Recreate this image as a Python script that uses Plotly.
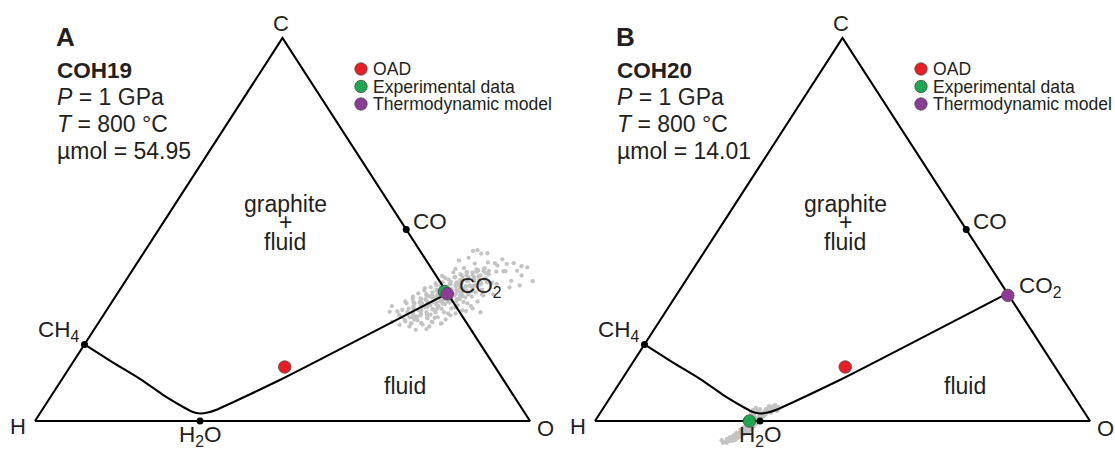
import plotly.graph_objects as go

# ---------------------------------------------------------------
# Compositions are mole fractions of C and O (H = 1 - C - O)
# ---------------------------------------------------------------
outline_C = [0.0, 0.0, 1.0, 0.0]          # H -> O -> C -> H
outline_O = [0.0, 1.0, 0.0, 0.0]

vertex_names = ["C", "H", "O"]
vertex_C = [1.0, 0.0, 0.0]
vertex_O = [0.0, 0.0, 1.0]

species_names = ["CH<sub>4</sub>", "H<sub>2</sub>O", "CO", "CO<sub>2</sub>"]
species_C = [0.2, 0.0, 0.5, 1 / 3]
species_O = [0.0, 1 / 3, 0.5, 2 / 3]

# graphite-saturated fluid boundary at 1 GPa / 800 °C (CH4 -> H2O max -> CO2)
sat_C = [0.200, 0.154, 0.110, 0.065, 0.034, 0.0235, 0.0196, 0.022, 0.030, 0.107, 1 / 3]
sat_O = [0.000, 0.079, 0.157, 0.230, 0.286, 0.307, 0.3235, 0.338, 0.353, 0.441, 2 / 3]

panel_letters = ["A", "B"]
sample_names = ["COH19", "COH20"]
pressure = ["1 GPa", "1 GPa"]
temperature = ["800 °C", "800 °C"]
umol = ["54.95", "14.01"]

oad_C = [0.141, 0.141]
oad_O = [0.434, 0.435]
exp_C = [0.338, 0.000]
exp_O = [0.658, 0.312]
model_C = [0.332, 0.328]
model_O = [0.667, 0.670]

# analytical spread of the OAD measurements (COH19)
spreadA_C = [0.281, 0.299, 0.280, 0.300, 0.279, 0.318, 0.298, 0.314, 0.291, 0.331,
             0.311, 0.304, 0.328, 0.293, 0.325, 0.306, 0.342, 0.319, 0.337, 0.309,
             0.354, 0.331, 0.321, 0.350, 0.313, 0.344, 0.332, 0.364, 0.327, 0.356,
             0.347, 0.376, 0.339, 0.368, 0.352, 0.377, 0.339, 0.367, 0.353, 0.389,
             0.366, 0.382, 0.357, 0.378, 0.396, 0.371, 0.391, 0.383, 0.272, 0.311,
             0.289, 0.308, 0.278, 0.308, 0.326, 0.293, 0.320, 0.312, 0.337, 0.312,
             0.339, 0.330, 0.357, 0.342, 0.332, 0.358, 0.332, 0.369, 0.354, 0.380,
             0.353, 0.374, 0.365, 0.390, 0.363, 0.397, 0.392, 0.285, 0.271, 0.271,
             0.264, 0.290, 0.255, 0.256, 0.325, 0.269, 0.347, 0.284, 0.359, 0.296,
             0.374, 0.311, 0.388, 0.325, 0.399, 0.342, 0.411, 0.361, 0.414, 0.390,
             0.412, 0.391, 0.277, 0.312, 0.259, 0.281, 0.379, 0.397, 0.330, 0.358,
             0.410,
             0.285, 0.251, 0.300, 0.240, 0.254, 0.276, 0.287, 0.419, 0.426, 0.444,
             0.437, 0.404, 0.366, 0.330, 0.300, 0.238, 0.259, 0.392,
             0.406, 0.391, 0.412, 0.380, 0.401, 0.365, 0.349, 0.354, 0.438, 0.446,
             0.422,
             0.307, 0.294, 0.281, 0.271,
             0.320, 0.307, 0.294, 0.284, 0.273,
             0.333, 0.320, 0.310, 0.299, 0.289, 0.279,
             0.341, 0.328, 0.318, 0.307, 0.297, 0.284,
             0.349, 0.336, 0.323, 0.312, 0.302, 0.292,
             0.354, 0.341, 0.331, 0.320, 0.310, 0.299,
             0.362, 0.349, 0.339, 0.326, 0.315, 0.305,
             0.370, 0.357, 0.344, 0.333, 0.323, 0.312,
             0.375, 0.362, 0.352, 0.339, 0.328, 0.318,
             0.383, 0.370, 0.359, 0.346, 0.336, 0.326,
             0.388, 0.375, 0.365, 0.352, 0.341, 0.331,
             0.388, 0.375, 0.365, 0.354, 0.344,
             0.393, 0.380, 0.370, 0.359,
             0.399, 0.386, 0.372, 0.362,
             0.260, 0.255, 0.263, 0.252, 0.268, 0.258, 0.271, 0.255, 0.265, 0.265,
             0.247, 0.247, 0.276, 0.284, 0.271, 0.286, 0.302, 0.289, 0.307, 0.294,
             0.312, 0.284, 0.281, 0.323, 0.336, 0.328, 0.318, 0.294]
spreadA_O = [0.623, 0.615, 0.640, 0.629, 0.652, 0.621, 0.644, 0.634, 0.659, 0.625,
             0.648, 0.659, 0.639, 0.675, 0.649, 0.671, 0.640, 0.666, 0.652, 0.682,
             0.643, 0.669, 0.680, 0.657, 0.695, 0.669, 0.684, 0.658, 0.695, 0.672,
             0.684, 0.661, 0.698, 0.675, 0.694, 0.675, 0.712, 0.691, 0.708, 0.678,
             0.704, 0.693, 0.721, 0.707, 0.694, 0.722, 0.711, 0.725, 0.636, 0.609,
             0.636, 0.628, 0.660, 0.642, 0.633, 0.666, 0.649, 0.663, 0.648, 0.677,
             0.659, 0.677, 0.659, 0.680, 0.696, 0.678, 0.709, 0.680, 0.701, 0.682,
             0.713, 0.699, 0.716, 0.697, 0.731, 0.708, 0.721, 0.610, 0.627, 0.657,
             0.615, 0.597, 0.632, 0.652, 0.601, 0.673, 0.614, 0.684, 0.630, 0.700,
             0.641, 0.710, 0.651, 0.720, 0.667, 0.732, 0.683, 0.743, 0.708, 0.737,
             0.723, 0.751, 0.597, 0.592, 0.672, 0.694, 0.633, 0.651, 0.738, 0.754,
             0.748,
             0.574, 0.611, 0.571, 0.671, 0.693, 0.701, 0.727, 0.647, 0.663, 0.663,
             0.683, 0.781, 0.779, 0.761, 0.731, 0.650, 0.592, 0.778,
             0.731, 0.755, 0.761, 0.793, 0.794, 0.823, 0.784, 0.802, 0.695, 0.671,
             0.733,
             0.597, 0.608, 0.612, 0.621,
             0.603, 0.613, 0.618, 0.621, 0.632,
             0.608, 0.619, 0.622, 0.631, 0.630, 0.640,
             0.616, 0.627, 0.630, 0.639, 0.639, 0.649,
             0.625, 0.635, 0.640, 0.649, 0.648, 0.657,
             0.634, 0.645, 0.648, 0.657, 0.656, 0.666,
             0.642, 0.653, 0.656, 0.667, 0.666, 0.675,
             0.650, 0.661, 0.666, 0.675, 0.674, 0.683,
             0.660, 0.671, 0.674, 0.684, 0.683, 0.693,
             0.668, 0.679, 0.682, 0.692, 0.692, 0.701,
             0.678, 0.688, 0.691, 0.702, 0.701, 0.710,
             0.690, 0.700, 0.704, 0.713, 0.712,
             0.699, 0.710, 0.713, 0.722,
             0.709, 0.719, 0.724, 0.733,
             0.618, 0.633, 0.641, 0.657, 0.659, 0.674, 0.678, 0.694, 0.697, 0.634,
             0.633, 0.673, 0.641, 0.667, 0.605, 0.589, 0.703, 0.719, 0.720, 0.737,
             0.738, 0.758, 0.709, 0.708, 0.722, 0.742, 0.699, 0.694]

# analytical spread of the OAD measurements (COH20)
spreadB_C = [0.039, 0.037, 0.039, 0.031, 0.031, 0.029, 0.026, 0.023, 0.021, 0.018,
             0.018, 0.013, 0.013, 0.008, 0.008, 0.003, 0.003, -0.003, -0.003, -0.008,
             -0.008, -0.013, -0.013, -0.018, -0.018, -0.023, -0.023, -0.029, -0.029, -0.034,
             -0.034, -0.039, -0.039, -0.044, -0.044, -0.050, -0.050, -0.052, -0.055, -0.057,
             -0.026, -0.037, -0.047, -0.052, -0.057, 0.034, 0.026, 0.042, 0.037, -0.031,
             -0.042, -0.031, -0.047, 0.029, 0.034, 0.026, 0.031, 0.021, 0.021,
             0.021, 0.029, 0.031, 0.023, 0.013, -0.008, -0.016, -0.023, -0.031, -0.047,
             -0.050, -0.037, 0.005, 0.026, -0.042]
spreadB_O = [0.342, 0.337, 0.332, 0.344, 0.332, 0.339, 0.330, 0.338, 0.329, 0.336,
             0.326, 0.335, 0.325, 0.333, 0.323, 0.332, 0.322, 0.331, 0.320, 0.329,
             0.319, 0.328, 0.318, 0.326, 0.316, 0.325, 0.315, 0.321, 0.313, 0.318,
             0.310, 0.315, 0.306, 0.311, 0.303, 0.308, 0.300, 0.297, 0.290, 0.287,
             0.318, 0.315, 0.308, 0.303, 0.295, 0.349, 0.344, 0.343, 0.351, 0.325,
             0.300, 0.307, 0.296, 0.305, 0.308, 0.316, 0.318, 0.305, 0.313,
             0.345, 0.347, 0.330, 0.320, 0.315, 0.311, 0.309, 0.305, 0.301, 0.290,
             0.281, 0.299, 0.315, 0.355, 0.294]

legend_labels = ["OAD", "Experimental data", "Thermodynamic model"]

# ---------------------------------------------------------------
# styling
# ---------------------------------------------------------------
FONT = "Liberation Sans, Arial, Helvetica, sans-serif"
INK = "#231F20"
RED, GREEN, PURPLE = "#EC1C24", "#1EA74E", "#8E3A98"
GREY = "#C3C3C3"

W, H = 1115, 449
SIDE, TRI_H, BASE = 495.0, 383.0, 421.0      # triangle size and baseline (px)
LEFTS = [35.0, 595.0]                        # H-vertex x-position of each panel (px)
PAD_U, V_TOP = 0.04, 1.05
V_MIN = -(H - BASE) / TRI_H


def proj(c_vals, o_vals):
    """Composition -> in-plane coordinates (H at 0, O at 1 along the base, C at top)."""
    u = [o + c / 2 for c, o in zip(c_vals, o_vals)]
    v = list(c_vals)
    return u, v


def px(x):
    return x / W


def py(y):
    return 1 - y / H


fig = go.Figure()
annotations = []
shapes = []

for i in range(2):
    xa = "x" if i == 0 else "x2"
    ya = "y" if i == 0 else "y2"
    left = LEFTS[i]
    spread_C = spreadA_C if i == 0 else spreadB_C
    spread_O = spreadA_O if i == 0 else spreadB_O

    u, v = proj(spread_C, spread_O)
    fig.add_trace(go.Scatter(x=u, y=v, xaxis=xa, yaxis=ya, mode="markers",
                             marker=dict(size=4.3, color=GREY, line=dict(width=0)),
                             cliponaxis=False, hoverinfo="skip", showlegend=False))

    u, v = proj(outline_C, outline_O)
    fig.add_trace(go.Scatter(x=u, y=v, xaxis=xa, yaxis=ya, mode="lines",
                             line=dict(color="black", width=2.1),
                             cliponaxis=False, hoverinfo="skip", showlegend=False))

    u, v = proj(sat_C, sat_O)
    fig.add_trace(go.Scatter(x=u, y=v, xaxis=xa, yaxis=ya, mode="lines",
                             line=dict(color="black", width=2.1, shape="spline", smoothing=0.5),
                             cliponaxis=False, hoverinfo="skip", showlegend=False))

    u, v = proj(species_C, species_O)
    fig.add_trace(go.Scatter(x=u, y=v, xaxis=xa, yaxis=ya, mode="markers",
                             marker=dict(size=7, color="black"),
                             cliponaxis=False, hoverinfo="skip", showlegend=False))

    for cc, oo, col in ((oad_C, oad_O, RED), (exp_C, exp_O, GREEN), (model_C, model_O, PURPLE)):
        u, v = proj([cc[i]], [oo[i]])
        fig.add_trace(go.Scatter(x=u, y=v, xaxis=xa, yaxis=ya, mode="markers",
                                 marker=dict(size=12.5, color=col, line=dict(color="#4A4A4A", width=0.8)),
                                 cliponaxis=False, hoverinfo="skip", showlegend=False))

    # axes: plain cartesian plane holding the triangle
    x0 = (left - PAD_U * SIDE) / W
    x1 = (left + (1 + PAD_U) * SIDE) / W
    y1 = (H - (BASE - V_TOP * TRI_H)) / H
    axis_common = dict(visible=False, showgrid=False, zeroline=False, fixedrange=True)
    fig.update_layout(**{
        ("xaxis" if i == 0 else "xaxis2"): dict(domain=[x0, x1], range=[-PAD_U, 1 + PAD_U],
                                              anchor=ya, **axis_common),
        ("yaxis" if i == 0 else "yaxis2"): dict(domain=[0, y1], range=[V_MIN, V_TOP],
                                              anchor=xa, **axis_common),
    })

    # vertex labels
    vtx_style = {"C": ("center", -2, 14), "H": ("right", -7, -6), "O": ("left", 5, -8)}
    uu, vv = proj(vertex_C, vertex_O)
    for name, a, b in zip(vertex_names, uu, vv):
        anc, dx, dy = vtx_style[name]
        annotations.append(dict(x=a, y=b, xref=xa, yref=ya, text=name, showarrow=False,
                                xanchor=anc, yanchor="middle", xshift=dx, yshift=dy,
                                font=dict(family=FONT, size=22, color=INK)))

    # species labels
    sp_style = [("right", -3, 13), ("center", 0, -15), ("left", 5, 8), ("left", 9, 6)]
    uu, vv = proj(species_C, species_O)
    for name, a, b, (anc, dx, dy) in zip(species_names, uu, vv, sp_style):
        annotations.append(dict(x=a, y=b, xref=xa, yref=ya, text=name, showarrow=False,
                                xanchor=anc, yanchor="middle", xshift=dx, yshift=dy,
                                font=dict(family=FONT, size=22.5, color=INK)))

    off = left - LEFTS[0]
    # field labels
    for txt, xx, yy in (("graphite", 285, 204), ("+", 285, 222), ("fluid", 285, 242), ("fluid", 405, 386)):
        annotations.append(dict(x=px(xx + off), y=py(yy), xref="paper", yref="paper", text=txt,
                                showarrow=False, xanchor="center", yanchor="middle",
                                font=dict(family=FONT, size=23, color=INK)))

    # panel header text
    annotations.append(dict(x=px(54 + off), y=py(37), xref="paper", yref="paper",
                            text="<b>%s</b>" % panel_letters[i], showarrow=False,
                            xanchor="left", yanchor="middle",
                            font=dict(family=FONT, size=26, color=INK)))
    header = [("<b>%s</b>" % sample_names[i], 22.5),
              ("<i>P</i> = %s" % pressure[i], 23),
              ("<i>T</i> = %s" % temperature[i], 23),
              ("µmol = %s" % umol[i], 23)]
    for (txt, fs), yy in zip(header, (70, 97, 124, 151)):
        annotations.append(dict(x=px(55 + off), y=py(yy), xref="paper", yref="paper", text=txt,
                                showarrow=False, xanchor="left", yanchor="middle",
                                font=dict(family=FONT, size=fs, color=INK)))

    # key
    for lab, col, yy in zip(legend_labels, (RED, GREEN, PURPLE), (69, 86.5, 104)):
        cx = 361 + off
        r = 6.2
        shapes.append(dict(type="circle", xref="paper", yref="paper",
                           x0=px(cx - r), x1=px(cx + r), y0=py(yy + r), y1=py(yy - r),
                           fillcolor=col, line=dict(color="#4A4A4A", width=0.8)))
        annotations.append(dict(x=px(371 + off), y=py(yy), xref="paper", yref="paper", text=lab,
                                showarrow=False, xanchor="left", yanchor="middle",
                                font=dict(family=FONT, size=17.6, color=INK)))

fig.update_layout(width=W, height=H, margin=dict(l=0, r=0, t=0, b=0),
                  paper_bgcolor="white", plot_bgcolor="white",
                  showlegend=False, annotations=annotations, shapes=shapes)

fig.write_html("out.html", config={"displayModeBar": False})
